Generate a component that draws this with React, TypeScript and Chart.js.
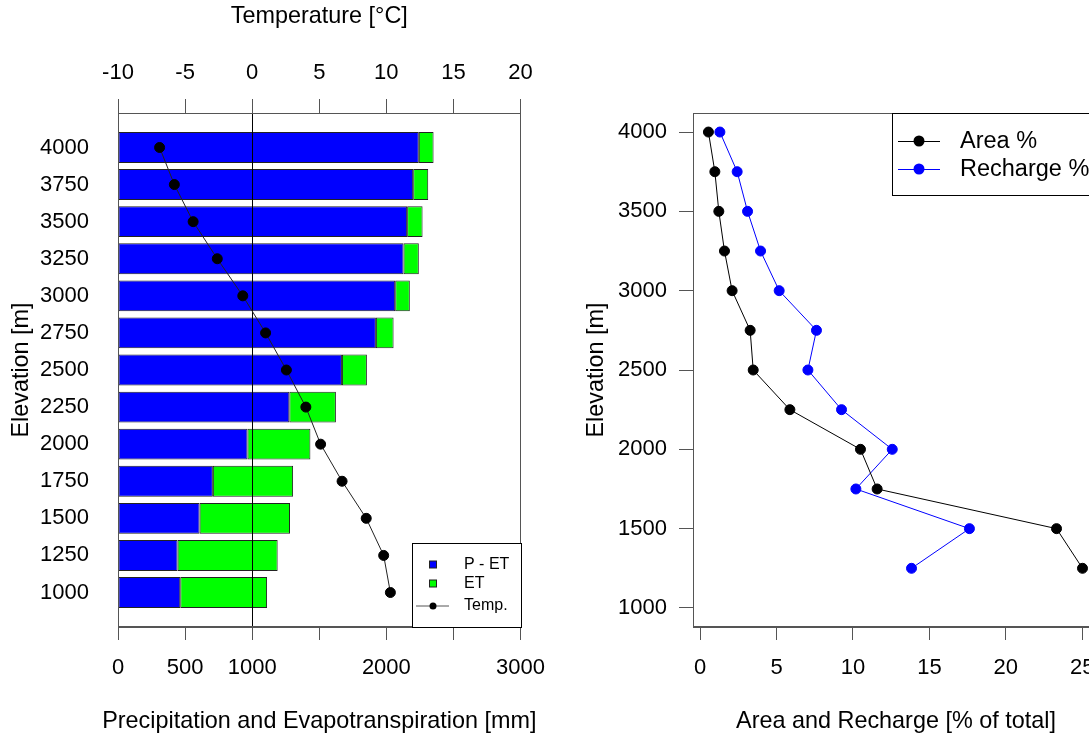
import React, { useEffect, useRef } from 'react';
import { Chart, registerables } from 'chart.js';

Chart.register(...registerables);

// ---------- Left panel data ----------
const ELEVATIONS = [1000, 1250, 1500, 1750, 2000, 2250, 2500, 2750, 3000, 3250, 3500, 3750, 4000];
const P_MINUS_ET = [464, 444, 608, 707, 965, 1277, 1669, 1922, 2066, 2128, 2155, 2200, 2242];
const ET = [647, 746, 674, 598, 469, 347, 186, 132, 109, 114, 115, 112, 110];
const TEMPERATURE = [10.3, 9.8, 8.5, 6.7, 5.1, 4.0, 2.55, 1.0, -0.7, -2.6, -4.4, -5.8, -6.9];
const PRECIP_TICKS = [0, 500, 1000, 1500, 2000, 2500, 3000];
const PRECIP_TICK_LABELS = ['0', '500', '1000', '', '2000', '', '3000'];
const TEMP_TICKS = [-10, -5, 0, 5, 10, 15, 20];
const TEMP_REFERENCE = 0;
const PRECIP_TITLE = 'Precipitation and Evapotranspiration [mm]';

// ---------- Right panel data ----------
const ZONE_ELEVATIONS = [1250, 1500, 1750, 2000, 2250, 2500, 2750, 3000, 3250, 3500, 3750, 4000];
const AREA_PCT = [25.02, 23.32, 11.58, 10.49, 5.87, 3.47, 3.27, 2.09, 1.59, 1.22, 0.96, 0.54];
const RECHARGE_PCT = [13.83, 17.62, 10.19, 12.57, 9.25, 7.05, 7.61, 5.17, 3.95, 3.1, 2.42, 1.29];
const PCT_TICKS = [0, 5, 10, 15, 20, 25];
const ELEV_TICKS = [1000, 1500, 2000, 2500, 3000, 3500, 4000];

const FONT = "'Liberation Sans', Arial, Helvetica, sans-serif";
const AXIS_GRAY = '#555';
const W = 560;
const H = 740;

Chart.defaults.font.family = FONT;
Chart.defaults.color = '#000';

const tickFont = { size: 22, family: FONT };
const titleFont = { size: 23.4, family: FONT };

const boxPlugin = {
  id: 'boxPlugin',
  afterDatasetsDraw(chart: any) {
    const { ctx, chartArea: a } = chart;
    ctx.save();
    ctx.strokeStyle = AXIS_GRAY;
    ctx.lineWidth = 1;
    const l = Math.round(a.left) + 0.5;
    const t = Math.round(a.top) + 0.5;
    const r = Math.round(a.right) - 0.5;
    const b = Math.round(a.bottom) - 0.5;
    ctx.strokeRect(l, t, r - l, b - t);
    ctx.restore();
  },
};

const refLinePlugin = {
  id: 'refLine',
  beforeDatasetDraw(chart: any, args: any) {
    if (args.index !== 2) return;
    const { ctx, chartArea: a } = chart;
    const x = Math.round(chart.scales.x2.getPixelForValue(TEMP_REFERENCE)) + 0.5;
    ctx.save();
    ctx.strokeStyle = '#000';
    ctx.lineWidth = 1;
    ctx.beginPath();
    ctx.moveTo(x, a.top);
    ctx.lineTo(x, a.bottom);
    ctx.stroke();
    ctx.restore();
  },
};

// Bottom title of the left panel drawn without width compression
const bottomTitlePlugin = {
  id: 'bottomTitle',
  afterDraw(chart: any) {
    const { ctx, chartArea: a } = chart;
    ctx.save();
    ctx.fillStyle = '#000';
    ctx.font = `${titleFont.size}px ${FONT}`;
    ctx.textAlign = 'center';
    ctx.textBaseline = 'middle';
    ctx.fillText(PRECIP_TITLE, (a.left + a.right) / 2, chart.height - 4 - (titleFont.size * 1.2) / 2);
    ctx.restore();
  },
};

const leftLegendPlugin = {
  id: 'leftLegend',
  afterDraw(chart: any) {
    const { ctx, chartArea: a } = chart;
    const ds = chart.data.datasets;
    const w = 109;
    const h = 84;
    const x0 = Math.round(a.right) - w;
    const y0 = Math.round(a.bottom) - h;
    ctx.save();
    ctx.fillStyle = '#fff';
    ctx.fillRect(x0, y0, w, h);
    ctx.strokeStyle = '#000';
    ctx.lineWidth = 1;
    ctx.strokeRect(x0 + 0.5, y0 + 0.5, w, h);
    const rows = [y0 + 21.5, y0 + 40.5, y0 + 63];
    const mx = x0 + 21;
    for (let i = 0; i < 2; i++) {
      ctx.fillStyle = ds[i].backgroundColor;
      ctx.fillRect(mx - 3.5, rows[i] - 3.5, 7, 7);
      ctx.strokeStyle = '#222';
      ctx.strokeRect(mx - 3.5, rows[i] - 3.5, 7, 7);
    }
    ctx.strokeStyle = AXIS_GRAY;
    ctx.beginPath();
    ctx.moveTo(x0 + 4, rows[2]);
    ctx.lineTo(x0 + 37, rows[2]);
    ctx.stroke();
    ctx.fillStyle = ds[2].pointBackgroundColor;
    ctx.beginPath();
    ctx.arc(mx, rows[2], 3.5, 0, Math.PI * 2);
    ctx.fill();
    ctx.fillStyle = '#000';
    ctx.font = `16px ${FONT}`;
    ctx.textBaseline = 'middle';
    ctx.textAlign = 'left';
    for (let i = 0; i < 3; i++) ctx.fillText(ds[i].label, x0 + 52, rows[i]);
    ctx.restore();
  },
};

const rightLegendPlugin = {
  id: 'rightLegend',
  afterDraw(chart: any) {
    const { ctx, chartArea: a } = chart;
    const ds = chart.data.datasets;
    const x0 = Math.round(a.left) + 199;
    const y0 = Math.round(a.top);
    const x1 = Math.round(a.right);
    const h = 82;
    ctx.save();
    ctx.fillStyle = '#fff';
    ctx.fillRect(x0, y0, x1 - x0, h);
    ctx.strokeStyle = '#000';
    ctx.lineWidth = 1;
    ctx.strokeRect(x0 + 0.5, y0 + 0.5, x1 - x0, h);
    const rows = [y0 + 28, y0 + 56];
    for (let i = 0; i < 2; i++) {
      const c = ds[i].borderColor;
      ctx.strokeStyle = c;
      ctx.beginPath();
      ctx.moveTo(x0 + 6, rows[i] + 0.5);
      ctx.lineTo(x0 + 48, rows[i] + 0.5);
      ctx.stroke();
      ctx.fillStyle = ds[i].pointBackgroundColor;
      ctx.beginPath();
      ctx.arc(x0 + 27, rows[i], 5.5, 0, Math.PI * 2);
      ctx.fill();
      ctx.fillStyle = '#000';
      ctx.font = `23.5px ${FONT}`;
      ctx.textBaseline = 'middle';
      ctx.textAlign = 'left';
      ctx.fillText(ds[i].label, x0 + 68, rows[i] + 1);
    }
    ctx.restore();
  },
};

export default function App() {
  const leftRef = useRef<HTMLCanvasElement>(null);
  const rightRef = useRef<HTMLCanvasElement>(null);

  useEffect(() => {
    const left = new Chart(leftRef.current as HTMLCanvasElement, {
      type: 'bar',
      data: {
        datasets: [
          {
            label: 'P - ET',
            data: ELEVATIONS.map((e, i) => ({ x: P_MINUS_ET[i], y: e })),
            backgroundColor: '#0000FF',
            borderColor: '#222',
            borderWidth: 1,
            borderSkipped: false,
            xAxisID: 'x',
            yAxisID: 'y',
            stack: 'pe',
            categoryPercentage: 1,
            barPercentage: 1 / 1.2,
            order: 2,
          } as any,
          {
            label: 'ET',
            data: ELEVATIONS.map((e, i) => ({ x: ET[i], y: e })),
            backgroundColor: '#00FF00',
            borderColor: '#222',
            borderWidth: 1,
            borderSkipped: false,
            xAxisID: 'x',
            yAxisID: 'y',
            stack: 'pe',
            categoryPercentage: 1,
            barPercentage: 1 / 1.2,
            order: 2,
          } as any,
          {
            type: 'line',
            label: 'Temp.',
            indexAxis: 'y',
            data: ELEVATIONS.map((e, i) => ({ x: TEMPERATURE[i], y: e })),
            xAxisID: 'x2',
            yAxisID: 'y',
            borderColor: '#222',
            borderWidth: 1,
            pointRadius: 5,
            pointBackgroundColor: '#000',
            pointBorderColor: '#000',
            pointBorderWidth: 1,
            fill: false,
            tension: 0,
            order: 1,
          } as any,
        ],
      },
      options: {
        indexAxis: 'y',
        animation: false,
        responsive: false,
        layout: { padding: { left: 0, right: 39, top: 0, bottom: 0 } },
        plugins: { legend: { display: false }, tooltip: { enabled: false } },
        scales: {
          x: {
            type: 'linear',
            position: 'bottom',
            min: 0,
            max: 3000,
            stacked: true,
            offset: false,
            afterBuildTicks: (s: any) => {
              s.ticks = PRECIP_TICKS.map((v) => ({ value: v }));
            },
            afterFit: (s: any) => {
              s.height = 113;
            },
            ticks: {
              autoSkip: false,
              maxRotation: 0,
              padding: 15,
              font: tickFont,
              color: '#000',
              callback: (_v: any, i: number) => PRECIP_TICK_LABELS[i],
            },
            grid: { drawOnChartArea: false, drawTicks: true, tickLength: 13, tickColor: AXIS_GRAY, offset: false },
            border: { display: true, color: AXIS_GRAY, width: 1 },
            title: { display: false },
          },
          x2: {
            type: 'linear',
            axis: 'x',
            position: 'top',
            min: -10,
            max: 20,
            offset: false,
            afterBuildTicks: (s: any) => {
              s.ticks = TEMP_TICKS.map((v) => ({ value: v }));
            },
            afterFit: (s: any) => {
              s.height = 113;
            },
            ticks: {
              autoSkip: false,
              maxRotation: 0,
              padding: 13,
              font: tickFont,
              color: '#000',
              callback: (v: any) => String(v),
            },
            grid: { drawOnChartArea: false, drawTicks: true, tickLength: 14, tickColor: AXIS_GRAY, offset: false },
            border: { display: true, color: AXIS_GRAY, width: 1 },
            title: {
              display: true,
              text: 'Temperature [°C]',
              font: titleFont,
              color: '#000',
              padding: { top: 3, bottom: 0 },
            },
          },
          y: {
            type: 'linear',
            position: 'left',
            min: 767.5,
            max: 4232.5,
            stacked: true,
            offset: false,
            afterBuildTicks: (s: any) => {
              s.ticks = ELEVATIONS.map((v) => ({ value: v }));
            },
            afterFit: (s: any) => {
              s.width = 118;
            },
            ticks: {
              autoSkip: false,
              padding: 29,
              font: tickFont,
              color: '#000',
              callback: (v: any) => String(v),
            },
            grid: { drawOnChartArea: false, drawTicks: false, offset: false },
            border: { display: true, color: AXIS_GRAY, width: 1 },
            title: {
              display: true,
              text: 'Elevation [m]',
              font: titleFont,
              color: '#000',
              padding: { top: 8, bottom: 0 },
            },
          },
        } as any,
      },
      plugins: [boxPlugin, refLinePlugin, leftLegendPlugin, bottomTitlePlugin],
    } as any);

    const right = new Chart(rightRef.current as HTMLCanvasElement, {
      type: 'line',
      data: {
        datasets: [
          {
            label: 'Area %',
            data: ZONE_ELEVATIONS.map((e, i) => ({ x: AREA_PCT[i], y: e })),
            borderColor: '#000',
            backgroundColor: '#000',
            borderWidth: 1,
            pointRadius: 5,
            pointBackgroundColor: '#000',
            pointBorderColor: '#000',
            pointBorderWidth: 1,
            fill: false,
            tension: 0,
          },
          {
            label: 'Recharge %',
            data: ZONE_ELEVATIONS.map((e, i) => ({ x: RECHARGE_PCT[i], y: e })),
            borderColor: '#0000FF',
            backgroundColor: '#0000FF',
            borderWidth: 1,
            pointRadius: 5,
            pointBackgroundColor: '#0000FF',
            pointBorderColor: '#0000FF',
            pointBorderWidth: 1,
            fill: false,
            tension: 0,
          },
        ],
      },
      options: {
        indexAxis: 'y',
        animation: false,
        responsive: false,
        layout: { padding: { left: 0, right: 21, top: 113, bottom: 0 } },
        plugins: { legend: { display: false }, tooltip: { enabled: false } },
        scales: {
          x: {
            type: 'linear',
            position: 'bottom',
            min: -0.47,
            max: 26.1,
            afterBuildTicks: (s: any) => {
              s.ticks = PCT_TICKS.map((v) => ({ value: v }));
            },
            afterFit: (s: any) => {
              s.height = 113;
            },
            ticks: {
              autoSkip: false,
              maxRotation: 0,
              padding: 15,
              font: tickFont,
              color: '#000',
              callback: (v: any) => String(v),
            },
            grid: { drawOnChartArea: false, drawTicks: true, tickLength: 13, tickColor: AXIS_GRAY },
            border: { display: true, color: AXIS_GRAY, width: 1 },
            title: {
              display: true,
              text: 'Area and Recharge [% of total]',
              font: titleFont,
              color: '#000',
              padding: { top: 0, bottom: 4 },
            },
          },
          y: {
            type: 'linear',
            position: 'left',
            min: 880,
            max: 4120,
            afterBuildTicks: (s: any) => {
              s.ticks = ELEV_TICKS.map((v) => ({ value: v }));
            },
            afterFit: (s: any) => {
              s.width = 133;
            },
            ticks: {
              autoSkip: false,
              padding: 12,
              font: tickFont,
              color: '#000',
              callback: (v: any) => String(v),
            },
            grid: { drawOnChartArea: false, drawTicks: true, tickLength: 14, tickColor: AXIS_GRAY },
            border: { display: true, color: AXIS_GRAY, width: 1 },
            title: {
              display: true,
              text: 'Elevation [m]',
              font: titleFont,
              color: '#000',
              padding: { top: 23, bottom: 0 },
            },
          },
        } as any,
      },
      plugins: [boxPlugin, rightLegendPlugin],
    } as any);

    return () => {
      left.destroy();
      right.destroy();
    };
  }, []);

  return (
    <div
      style={{
        position: 'absolute',
        left: 0,
        top: 0,
        width: 1089,
        height: 740,
        overflow: 'hidden',
        background: '#fff',
      }}
    >
      <canvas ref={leftRef} width={W} height={H} style={{ position: 'absolute', left: 0, top: 0 }} />
      <canvas ref={rightRef} width={W} height={H} style={{ position: 'absolute', left: W, top: 0 }} />
    </div>
  );
}
